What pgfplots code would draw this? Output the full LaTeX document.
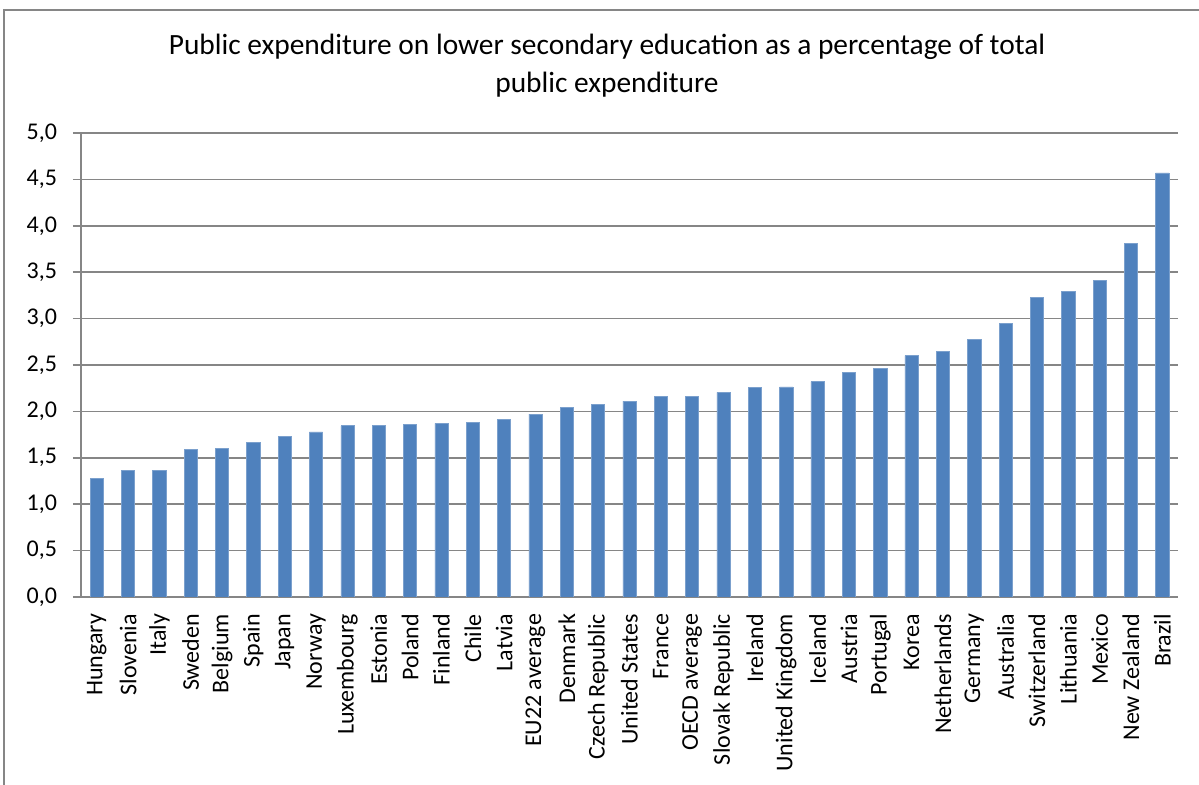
\documentclass[border=0pt]{standalone}
\usepackage{pgfplots}
\pgfplotsset{compat=1.18}
\usepackage{fontspec}
\setmainfont{Carlito}
\definecolor{barblue}{HTML}{4F81BD}
\definecolor{gridgray}{HTML}{868686}
\begin{document}
\begin{tikzpicture}[x=1pt,y=1pt]
\useasboundingbox (0,0) rectangle (599.5,392.5);
\draw[gridgray, line width=1pt] (2,0) -- (2,387.5) -- (599.5,387.5);
\node[align=center, font=\fontsize{14.7}{19}\selectfont] at (303.5,359.5) {Public expenditure on lower secondary education as a percentage of total\\public expenditure};
\begin{axis}[at={(40.5pt,94pt)}, anchor=south west, scale only axis,
  width=548.5pt, height=232pt,
  ymin=0, ymax=5, ytick={0,0.5,1,1.5,2,2.5,3,3.5,4,4.5,5},
  xmin=-0.5, xmax=34.5,
  axis x line*=bottom, axis y line*=left,
  axis line style={gridgray, line width=0.75pt, -},
  ymajorgrids, grid style={gridgray, line width=0.75pt},
  tick style={gridgray, line width=0.75pt},
  tick align=outside, major tick length=4pt,
  xtick={0,...,34}, x tick style={draw=none},
  minor xtick={-0.5,0.5,...,34.5}, minor x tick style={gridgray, line width=0.75pt}, minor tick length=4pt,
  y tick label style={/pgf/number format/fixed, /pgf/number format/fixed zerofill, /pgf/number format/precision=1, /pgf/number format/use comma, /pgf/number format/assume math mode=true},
  y tick label style={font=\fontsize{12}{14}\selectfont, xshift=-4.5pt},
  xticklabels={Hungary,Slovenia,Italy,Sweden,Belgium,Spain,Japan,Norway,Luxembourg,Estonia,Poland,Finland,Chile,Latvia,EU22 average,Denmark,Czech Republic,United States,France,OECD average,Slovak Republic,Ireland,United Kingdom,Iceland,Austria,Portugal,Korea,Netherlands,Germany,Australia,Switzerland,Lithuania,Mexico,New Zealand,Brazil},
  x tick label style={rotate=90, anchor=east, font=\fontsize{12}{14}\selectfont},
  xticklabel shift=1pt,
]
\addplot[ybar, bar width=6.6pt, fill=barblue, draw=barblue!75!white, line width=0.3pt] coordinates {
(0,1.28) (1,1.36) (2,1.36) (3,1.59) (4,1.60) (5,1.67) (6,1.73) (7,1.78) (8,1.845) (9,1.845)
(10,1.86) (11,1.87) (12,1.88) (13,1.91) (14,1.97) (15,2.04) (16,2.075) (17,2.11) (18,2.16) (19,2.16)
(20,2.205) (21,2.255) (22,2.265) (23,2.32) (24,2.42) (25,2.46) (26,2.60) (27,2.65) (28,2.78) (29,2.95)
(30,3.23) (31,3.295) (32,3.41) (33,3.81) (34,4.57)
};
\end{axis}
\end{tikzpicture}
\end{document}
